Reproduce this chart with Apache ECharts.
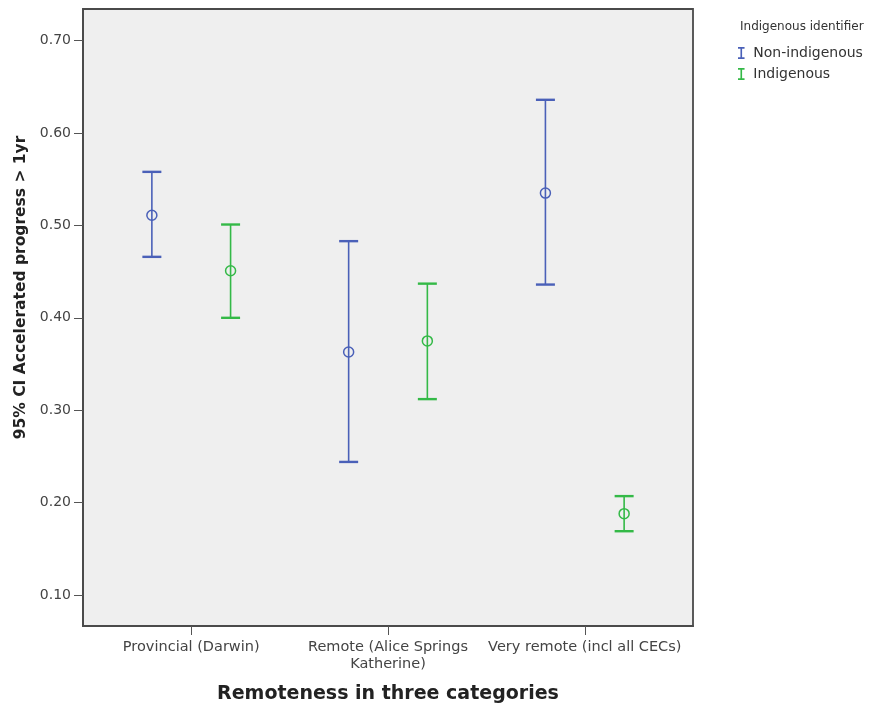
<!DOCTYPE html>
<html>
<head>
<meta charset="utf-8">
<script src="https://cdn.jsdelivr.net/npm/echarts@6/dist/echarts.min.js"></script>
<style>
html,body{margin:0;padding:0;background:#fff;}
#chart{width:873px;height:713px;}
</style>
</head>
<body>
<div id="chart"></div>
<script>
// ---- data ----
const categories = ['Provincial (Darwin)', 'Remote (Alice Springs\nKatherine)', 'Very remote (incl all CECs)'];
const seriesNames = ['Non-indigenous', 'Indigenous'];
const nonIndMean = [0.511, 0.363, 0.535];
const nonIndLow  = [0.466, 0.244, 0.436];
const nonIndHigh = [0.558, 0.483, 0.636];
const indMean = [0.451, 0.375, 0.188];
const indLow  = [0.400, 0.312, 0.169];
const indHigh = [0.501, 0.437, 0.207];
const yTicks = [0.10, 0.20, 0.30, 0.40, 0.50, 0.60, 0.70];
const legendTitle = 'Indigenous identifier';
const xTitle = 'Remoteness in three categories';
const yTitle = '95% CI Accelerated progress > 1yr';

// ---- styling ----
const FONT = 'DejaVu Sans';
const BLUE = '#4a60b8';
const GREEN = '#34b947';
const OFFSET = 0.2;

function buildData(low, mean, high, off) {
  return mean.map((m, i) => [i + off, low[i], m, high[i]]);
}

function renderErr(color) {
  return function (params, api) {
    const x = api.value(0);
    const pLow = api.coord([x, api.value(1)]);
    const pMean = api.coord([x, api.value(2)]);
    const pHigh = api.coord([x, api.value(3)]);
    const cap = 9.5;
    return {
      type: 'group',
      children: [
        { type: 'line', shape: { x1: pLow[0], y1: pLow[1], x2: pHigh[0], y2: pHigh[1] },
          style: { stroke: color, lineWidth: 1.6 } },
        { type: 'line', shape: { x1: pHigh[0] - cap, y1: pHigh[1], x2: pHigh[0] + cap, y2: pHigh[1] },
          style: { stroke: color, lineWidth: 2.4 } },
        { type: 'line', shape: { x1: pLow[0] - cap, y1: pLow[1], x2: pLow[0] + cap, y2: pLow[1] },
          style: { stroke: color, lineWidth: 2.4 } },
        { type: 'circle', shape: { cx: pMean[0], cy: pMean[1], r: 5 },
          style: { fill: 'none', stroke: color, lineWidth: 1.5 } }
      ]
    };
  };
}

const chart = echarts.init(document.getElementById('chart'), null, { renderer: 'canvas' });
chart.setOption({
  backgroundColor: '#ffffff',
  animation: false,
  textStyle: { fontFamily: FONT },
  title: {
    text: legendTitle,
    left: 740, top: 21, padding: 0,
    textStyle: { fontFamily: FONT, fontSize: 12, fontWeight: 'normal', color: '#333' }
  },
  legend: {
    data: seriesNames,
    orient: 'vertical',
    left: 738, top: 46,
    itemWidth: 14, itemHeight: 12, itemGap: 7,
    padding: 0,
    icon: 'path://M0,0H12V3H7.5V19H12V22H0V19H4.5V3H0Z',
    textStyle: { fontFamily: FONT, fontSize: 14, color: '#333' }
  },
  grid: {
    left: 83, top: 9, right: 180, bottom: 87,
    show: true,
    backgroundColor: '#efefef',
    borderColor: '#4a4a4a',
    borderWidth: 1.8,
    containLabel: false
  },
  xAxis: {
    type: 'value',
    min: -0.55, max: 2.55,
    splitLine: { show: false },
    axisLine: { show: true, onZero: false, lineStyle: { color: '#4a4a4a', width: 1.8 } },
    axisTick: { show: true, customValues: [0, 1, 2], length: 9, lineStyle: { color: '#555', width: 1 } },
    axisLabel: {
      customValues: [0, 1, 2],
      formatter: v => categories[Math.round(v)],
      fontFamily: FONT, fontSize: 14.5, color: '#444', margin: 13, lineHeight: 17
    },
    name: xTitle,
    nameLocation: 'middle',
    nameGap: 59,
    nameTextStyle: { fontFamily: FONT, fontSize: 19, fontWeight: 'bold', color: '#222' }
  },
  yAxis: {
    type: 'value',
    min: 0.0664, max: 0.7343,
    splitLine: { show: false },
    axisLine: { show: true, onZero: false, lineStyle: { color: '#4a4a4a', width: 1.8 } },
    axisTick: { show: true, customValues: yTicks, length: 9, lineStyle: { color: '#555', width: 1 } },
    axisLabel: {
      customValues: yTicks,
      formatter: v => v.toFixed(2),
      fontFamily: FONT, fontSize: 14, color: '#444', margin: 12
    },
    name: yTitle,
    nameLocation: 'middle',
    nameGap: 50,
    nameRotate: 90,
    nameTextStyle: { fontFamily: FONT, fontSize: 15.5, fontWeight: 'bold', color: '#222', padding: [0, 0, 0, 60] }
  },
  series: [
    {
      name: seriesNames[0], type: 'custom', color: BLUE,
      itemStyle: { color: BLUE },
      renderItem: renderErr(BLUE),
      encode: { x: 0, y: [1, 2, 3] },
      data: buildData(nonIndLow, nonIndMean, nonIndHigh, -OFFSET)
    },
    {
      name: seriesNames[1], type: 'custom', color: GREEN,
      itemStyle: { color: GREEN },
      renderItem: renderErr(GREEN),
      encode: { x: 0, y: [1, 2, 3] },
      data: buildData(indLow, indMean, indHigh, OFFSET)
    }
  ]
});
</script>
</body>
</html>
